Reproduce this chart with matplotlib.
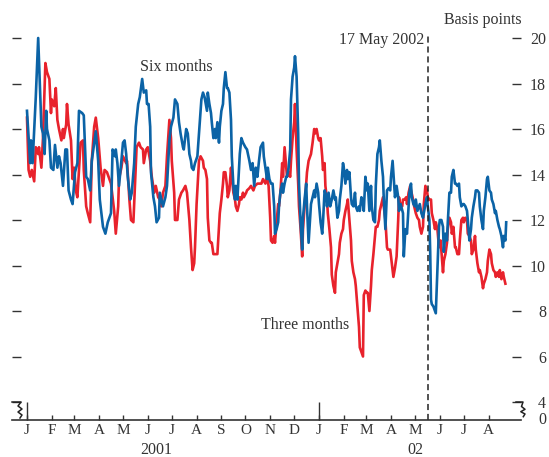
import numpy as np
import matplotlib
matplotlib.use("Agg")
import matplotlib.pyplot as plt
import matplotlib.dates as mdates
from matplotlib.lines import Line2D
from matplotlib.ticker import FuncFormatter, FixedLocator
from matplotlib.transforms import blended_transform_factory

plt.rcParams['font.family'] = ['Liberation Serif', 'DejaVu Serif']

start = np.datetime64('2001-01-01')

# three-month spread, basis points (days counted from 1 Jan 2001)
three_days = [0, 2, 4, 6, 9, 11, 14, 15, 18, 20, 23, 25, 28, 30, 31, 34, 36, 38, 40, 43,
              45, 46, 49, 50, 52, 55, 57, 59, 61, 63, 65, 67, 70, 71, 74, 76, 79, 81, 84, 86,
              89, 92, 95, 97, 100, 105, 109, 111, 114, 115, 118, 120, 124, 125, 128, 130, 133, 135, 137, 140,
              142, 145, 146, 149, 151, 154, 156, 159, 161, 164, 166, 168, 170, 173, 175, 178, 180, 181, 184, 185,
              188, 190, 193, 195, 198, 200, 203, 205, 207, 209, 210, 212, 215, 217, 220, 221, 223, 225, 226, 228,
              230, 231, 233, 235, 236, 238, 240, 241, 243, 245, 246, 248, 250, 251, 253, 255, 256, 258, 260, 261,
              263, 265, 266, 268, 270, 271, 274, 275, 278, 280, 283, 285, 288, 290, 293, 295, 298, 300, 302, 304,
              305, 307, 309, 310, 312, 314, 315, 317, 319, 320, 322, 324, 325, 327, 329, 330, 332, 334, 335, 337,
              339, 340, 342, 344, 345, 347, 349, 350, 352, 354, 355, 357, 359, 360, 362, 364, 365, 367, 369, 370,
              372, 373, 375, 376, 378, 380, 381, 383, 385, 386, 388, 390, 391, 393, 395, 396, 398, 400, 401, 403,
              405, 406, 408, 410, 411, 413, 415, 416, 418, 420, 421, 423, 425, 426, 428, 430, 431, 433, 435, 436,
              438, 440, 441, 443, 445, 446, 448, 450, 451, 454, 456, 458, 460, 462, 464, 465, 467, 469, 470, 472,
              474, 475, 477, 479, 480, 482, 484, 486, 488, 490, 491, 493, 495, 496, 498, 500, 501, 503, 505, 506,
              508, 510, 511, 513, 515, 517, 520, 521, 523, 525, 526, 528, 530, 531, 533, 535, 536, 538, 540, 541,
              543, 545, 546, 548, 550, 551, 553, 555, 556, 558, 560, 561, 563, 565, 566, 568, 570, 571, 573, 575,
              576, 578, 580, 581, 583, 585, 586, 588, 590, 591, 593, 595, 596, 598]
three_bp = [16.5, 14.2, 13.9, 14.2, 13.7, 15.2, 14.9, 15.2, 14.3, 15.6, 18.9, 18.5, 18.2, 16.7, 17.3, 17.0, 17.8, 16.4, 16.0, 15.5,
            16.0, 15.6, 16.2, 17.1, 16.2, 15.5, 13.8, 14.3, 13.3, 13.0, 14.2, 15.4, 15.5, 14.2, 12.6, 12.3, 11.9, 14.6, 16.1, 16.5,
            15.6, 14.3, 13.5, 14.2, 14.1, 13.6, 12.4, 11.4, 12.6, 13.8, 14.3, 14.8, 14.5, 14.6, 12.9, 12.0, 11.9, 13.5, 15.2, 15.4,
            15.2, 15.1, 14.5, 15.1, 15.2, 14.6, 13.9, 13.2, 13.5, 13.0, 12.9, 12.6, 13.2, 13.5, 14.8, 16.4, 15.6, 14.6, 13.2, 12.0,
            12.0, 12.9, 13.2, 13.3, 13.5, 13.2, 12.0, 10.8, 9.8, 10.1, 10.8, 12.7, 14.6, 14.8, 14.6, 14.3, 14.2, 13.8, 12.1, 11.1,
            11.0, 11.0, 10.5, 10.5, 10.5, 10.5, 11.7, 12.3, 12.9, 13.6, 14.1, 14.1, 13.5, 13.0, 13.3, 14.3, 13.9, 13.2, 12.9, 12.6,
            12.4, 12.7, 13.0, 12.9, 13.2, 13.0, 13.2, 13.3, 13.4, 13.5, 13.3, 13.5, 13.6, 13.6, 13.6, 13.8, 13.6, 13.9, 13.5, 12.1,
            11.1, 11.0, 11.3, 11.0, 11.9, 12.7, 12.6, 13.3, 14.5, 13.9, 15.2, 14.3, 13.9, 14.1, 13.9, 14.6, 15.6, 16.3, 17.1, 15.1,
            13.6, 12.6, 11.6, 10.4, 11.6, 12.6, 13.6, 14.1, 14.6, 14.8, 14.9, 15.4, 16.0, 15.8, 16.0, 15.6, 15.5, 15.6, 14.8, 14.2,
            14.5, 13.5, 12.9, 12.3, 11.6, 10.8, 9.6, 9.1, 8.8, 9.7, 10.1, 10.5, 11.0, 11.4, 11.6, 12.0, 12.4, 12.7, 12.9, 12.0,
            11.1, 10.2, 9.7, 9.4, 9.1, 8.2, 7.3, 6.4, 6.2, 6.0, 8.7, 8.9, 8.8, 8.8, 8.0, 9.1, 9.8, 10.5, 11.3, 11.7,
            11.7, 12.0, 12.4, 12.7, 13.0, 12.6, 12.0, 10.8, 10.7, 10.7, 10.1, 9.5, 9.9, 10.4, 12.0, 13.0, 12.6, 12.6, 12.9, 12.9,
            13.0, 12.7, 13.2, 13.5, 13.3, 13.0, 12.6, 12.3, 12.1, 12.0, 11.7, 11.4, 11.7, 12.7, 13.5, 13.3, 13.0, 12.9, 12.9, 12.3,
            12.0, 11.6, 11.9, 11.6, 10.8, 11.1, 9.7, 10.2, 10.5, 11.0, 11.6, 12.1, 11.9, 11.4, 11.7, 10.8, 10.8, 10.5, 10.5, 11.1,
            12.0, 12.1, 11.9, 12.1, 12.0, 11.4, 11.3, 11.1, 10.5, 10.7, 11.3, 10.7, 10.1, 9.7, 9.8, 9.5, 9.0, 9.2, 9.4, 9.7,
            10.2, 10.7, 10.5, 10.1, 9.8, 9.7, 9.5, 9.7, 9.5, 9.8, 9.4, 9.7, 9.5, 9.2]

# six-month spread, basis points
six_days = [0, 4, 5, 7, 9, 11, 14, 16, 18, 20, 22, 24, 25, 28, 30, 33, 35, 38, 40, 42,
            45, 48, 50, 52, 55, 57, 60, 63, 65, 69, 71, 74, 76, 79, 81, 84, 86, 89, 91, 95,
            98, 101, 105, 107, 110, 111, 113, 115, 118, 120, 122, 124, 126, 129, 131, 134, 136, 139, 141, 144,
            146, 149, 150, 152, 154, 155, 158, 160, 162, 165, 166, 168, 170, 173, 175, 178, 180, 183, 185, 188,
            190, 192, 195, 196, 199, 201, 203, 205, 206, 208, 210, 211, 213, 215, 218, 220, 222, 225, 226, 228,
            230, 231, 233, 235, 236, 238, 240, 241, 243, 245, 246, 248, 250, 251, 253, 255, 256, 258, 260, 261,
            263, 265, 266, 268, 270, 273, 275, 278, 280, 282, 284, 286, 288, 290, 292, 295, 296, 298, 300, 301,
            303, 305, 307, 309, 310, 312, 314, 315, 317, 319, 320, 322, 324, 325, 327, 329, 330, 332, 334, 335,
            337, 339, 340, 342, 344, 345, 347, 349, 350, 352, 354, 355, 357, 359, 360, 362, 364, 365, 367, 369,
            370, 372, 374, 375, 377, 379, 381, 383, 385, 386, 388, 390, 391, 393, 395, 396, 398, 400, 401, 403,
            405, 406, 408, 410, 411, 413, 415, 416, 418, 420, 421, 423, 425, 426, 428, 430, 431, 433, 435, 436,
            438, 440, 441, 443, 445, 446, 448, 450, 452, 454, 455, 457, 459, 460, 462, 464, 465, 467, 470, 471,
            473, 475, 476, 478, 480, 481, 483, 485, 486, 488, 490, 491, 493, 495, 496, 498, 500, 501, 503, 504,
            505, 506, 508, 510, 511, 513, 515, 516, 518, 520, 521, 523, 525, 526, 528, 530, 531, 533, 535, 536,
            538, 540, 541, 543, 545, 546, 548, 550, 551, 553, 555, 556, 558, 560, 561, 563, 565, 566, 568, 570,
            571, 573, 575, 576, 578, 580, 581, 583, 585, 586, 588, 590, 591, 593, 595, 596, 598, 599]
six_bp = [16.8, 14.5, 15.5, 14.5, 16.0, 17.4, 20.0, 18.0, 16.1, 15.8, 14.9, 16.8, 16.0, 15.5, 14.3, 14.2, 15.3, 14.3, 14.8, 14.5,
          13.5, 15.1, 15.1, 13.3, 12.9, 12.7, 14.1, 14.5, 16.8, 16.7, 16.6, 13.9, 13.8, 13.3, 14.6, 15.4, 15.9, 14.6, 12.9, 11.7,
          11.4, 11.9, 12.3, 15.1, 14.8, 15.1, 14.5, 13.5, 14.6, 15.4, 15.5, 14.9, 13.9, 12.9, 13.2, 14.5, 16.1, 17.1, 17.4, 18.2,
          17.6, 17.7, 17.1, 17.1, 16.1, 14.1, 13.0, 12.6, 11.9, 12.1, 13.2, 12.9, 12.6, 13.0, 13.5, 15.5, 16.1, 16.5, 17.3, 17.1,
          16.3, 15.8, 15.2, 15.1, 16.0, 15.8, 14.9, 14.6, 14.3, 14.2, 14.5, 14.6, 14.8, 15.8, 17.3, 17.6, 17.4, 16.8, 17.6, 17.1,
          16.7, 16.3, 15.6, 16.0, 15.6, 16.3, 15.4, 16.1, 16.8, 17.1, 17.8, 18.5, 17.8, 17.8, 17.6, 16.4, 14.8, 13.5, 12.9, 13.5,
          12.9, 14.2, 14.9, 15.6, 15.4, 15.2, 15.1, 14.6, 14.2, 14.5, 13.5, 14.3, 13.9, 14.6, 15.2, 15.4, 14.8, 14.3, 13.8, 14.3,
          13.8, 13.6, 13.6, 12.6, 11.4, 11.6, 11.9, 12.6, 13.3, 13.6, 13.2, 13.6, 13.9, 13.9, 14.3, 15.1, 17.3, 18.3, 18.7, 19.2,
          18.3, 15.8, 13.6, 11.9, 10.7, 12.1, 12.9, 13.6, 12.6, 11.0, 12.1, 12.7, 13.0, 13.3, 13.0, 13.6, 13.2, 12.7, 11.9, 11.4,
          11.9, 13.3, 13.1, 12.6, 13.2, 12.6, 12.9, 13.3, 12.9, 13.0, 12.1, 12.4, 12.9, 13.5, 14.5, 14.3, 13.6, 14.2, 13.8, 14.1,
          13.0, 12.7, 12.6, 13.2, 12.6, 12.4, 12.6, 12.4, 13.0, 12.7, 12.4, 13.9, 13.3, 13.6, 12.4, 13.5, 12.6, 12.0, 11.9, 13.5,
          14.9, 15.2, 15.5, 14.6, 13.9, 12.9, 11.6, 13.3, 13.4, 13.3, 13.9, 14.6, 13.5, 13.0, 13.5, 13.0, 12.4, 12.7, 12.3, 10.4,
          11.6, 11.4, 12.0, 13.2, 13.6, 13.0, 12.7, 12.6, 12.9, 12.4, 12.6, 12.7, 12.3, 12.1, 12.3, 12.7, 13.0, 12.6, 12.0, 10.6,
          8.5, 8.3, 8.2, 8.0, 7.9, 9.8, 11.7, 12.0, 12.0, 11.7, 10.6, 11.4, 11.1, 11.9, 13.2, 13.2, 13.9, 14.2, 13.6, 13.6,
          13.5, 13.6, 13.0, 12.6, 12.7, 12.7, 12.6, 12.4, 12.0, 11.1, 11.6, 12.1, 12.6, 13.0, 13.3, 13.3, 13.2, 12.6, 12.0, 11.6,
          12.4, 13.0, 13.8, 13.9, 13.3, 13.2, 12.9, 12.7, 12.3, 12.4, 12.0, 11.7, 11.6, 11.3, 10.8, 11.3, 11.1, 11.9]

event_day = 501  # 17 May 2002
y_ticks = [4, 6, 8, 10, 12, 14, 16, 18, 20]
months = np.arange('2001-01', '2002-09', dtype='datetime64[M]')

text_col = '#333333'
red = '#e8222c'
blue = '#0b63a6'

W, H = 549, 457
fig = plt.figure(figsize=(W / 100, H / 100), dpi=100)
ax = fig.add_axes([11.7 / W, (H - 420) / H, (521 - 11.7) / W, 400 / H])

ax.plot(start + np.array(three_days), three_bp, color=red, lw=1.9, solid_joinstyle='round')
ax.plot(start + np.array(six_days), six_bp, color=blue, lw=1.9, solid_joinstyle='round')

t0 = mdates.date2num(start)
ax.set_xlim(t0 - 19.1, t0 + 617.5)
ax.set_ylim(3.209, 3.209 + 400 / 22.75)

for s in ('top', 'left', 'right'):
    ax.spines[s].set_visible(False)
ax.spines['bottom'].set_color(text_col)
ax.spines['bottom'].set_linewidth(1.2)

# y ticks: bare marks on the left, numbered on the right
ax.set_yticks(y_ticks)
ax.set_yticklabels([str(v) for v in y_ticks])
ax.tick_params(axis='y', left=True, right=True, labelleft=False, labelright=True,
               direction='in', length=6.5, width=1.0, color=text_col,
               labelsize=11.5, labelcolor=text_col, pad=18)
for t in ax.yaxis.get_major_ticks():
    t.label2.set_horizontalalignment('right')

# month ticks, with taller marks at the start of each year
month_nums = mdates.date2num(months.astype('datetime64[D]'))
ax.xaxis.set_major_locator(FixedLocator(month_nums))
ax.xaxis.set_major_formatter(FuncFormatter(lambda x, pos: mdates.num2date(x).strftime('%b')[0]))
ax.xaxis.set_minor_locator(mdates.YearLocator())
ax.xaxis.remove_overlapping_locs = False
ax.tick_params(axis='x', which='major', direction='in', length=3.6, width=1.0, color=text_col,
               labelsize=11, labelcolor=text_col, pad=3)
ax.tick_params(axis='x', which='minor', direction='in', length=13, width=1.0, color=text_col)

xt = ax.get_xaxis_transform()
ax.text(start + np.timedelta64(162, 'D'), -0.075, '2001', transform=xt, ha='center', va='center',
        fontsize=11.5, color=text_col)
ax.text(start + np.timedelta64(486, 'D'), -0.075, '02', transform=xt, ha='center', va='center',
        fontsize=11.5, color=text_col)

# bottom of the broken value axis
yt = blended_transform_factory(ax.transAxes, ax.transData)
ax.annotate('0', xy=(1, 3.209), xycoords=yt, xytext=(18, 0), textcoords='offset points',
            ha='right', va='center', fontsize=11.5, color=text_col)


def px(xs, ys):
    return [x / W for x in xs], [1 - y / H for y in ys]


for xs, ys in [([12, 21, 18, 22, 18, 22, 20], [402, 402, 406, 409, 412, 415, 418]),
               ([516, 523, 521.5, 525, 520.8, 525, 523.3], [402, 402, 406.5, 409.3, 411.7, 414, 416.7])]:
    fx, fy = px(xs, ys)
    fig.add_artist(Line2D(fx, fy, transform=fig.transFigure, color='#222222', lw=1.1))

ax.vlines(start + np.timedelta64(event_day, 'D'), 3.209, 20.22, colors='#222222',
          linestyles=(0, (4, 2.5)), lw=1.1)
ax.text(start + np.timedelta64(496, 'D'), 19.9, '17 May 2002', ha='right', va='center',
        fontsize=11.5, color=text_col)
ax.text(start + np.timedelta64(141, 'D'), 18.73, 'Six months', ha='left', va='center',
        fontsize=11.5, color=text_col)
ax.text(start + np.timedelta64(292, 'D'), 7.38, 'Three months', ha='left', va='center',
        fontsize=11.5, color=text_col)
fig.text(522 / W, 1 - 20 / H, 'Basis points', ha='right', va='center', fontsize=11.5, color=text_col)

fig.savefig('out.png', dpi=100)
